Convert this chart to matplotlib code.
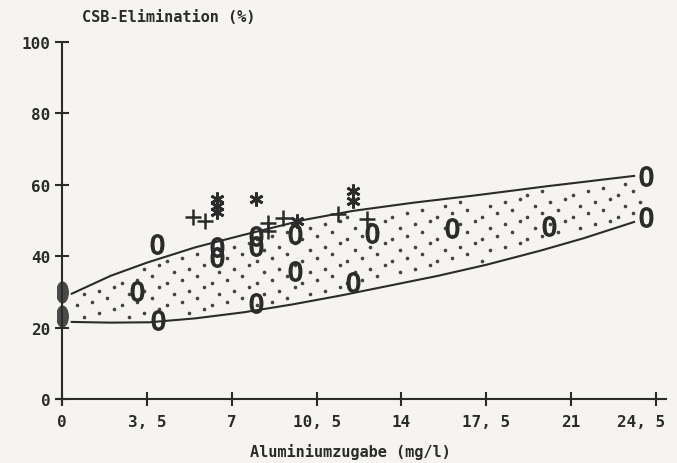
import numpy as np
import matplotlib.pyplot as plt
from matplotlib.path import Path
from matplotlib.transforms import Affine2D, ScaledTranslation

# Messpunkte
o_x = [3.1, 3.9, 3.95, 6.4, 6.4, 8.0, 8.0, 8.0, 9.6, 9.6, 12.0, 12.8, 16.1, 20.1, 24.1, 24.1]
o_y = [30.3, 43.4, 22.0, 42.6, 39.8, 45.6, 42.9, 26.9, 46.2, 35.9, 32.8, 46.5, 48.0, 48.5, 62.5, 51.0]
filled_x = [0, 0]
filled_y = [30.0, 23.2]
star_x = [6.4, 6.4, 6.4, 8.0, 9.7, 12.0, 12.0]
star_y = [56.0, 54.1, 52.4, 56.0, 49.8, 58.3, 55.5]
plus_x = [5.4, 5.9, 8.5, 8.5, 9.1, 11.4, 12.6]
plus_y = [51.0, 49.9, 49.3, 47.0, 50.6, 51.8, 50.4]

# Hüllkurven des Streubereichs
upper_x = [0.4, 2.0, 3.5, 5.5, 7.5, 10.0, 12.0, 14.5, 17.0, 20.0, 23.6]
upper_y = [29.5, 34.5, 38.2, 42.5, 46.0, 50.2, 52.7, 55.0, 57.0, 59.6, 62.5]
lower_x = [0.4, 2.0, 3.6, 5.5, 7.5, 9.5, 11.5, 13.1, 15.5, 17.5, 19.7, 21.5, 23.6]
lower_y = [21.6, 21.4, 21.5, 22.6, 24.3, 26.5, 29.0, 31.2, 34.5, 37.6, 41.5, 45.0, 49.6]

xticks = [0, 3.5, 7, 10.5, 14, 17.5, 21, 24.5]
xticklabels = ['0', '3, 5', '7', '10, 5', '14', '17, 5', '21', '24, 5']
yticks = [0, 20, 40, 60, 80, 100]

ink = '#2b2b2b'
plt.rcParams['font.family'] = ['DejaVu Sans Mono']

fig = plt.figure(figsize=(6.77, 4.64), dpi=100, facecolor='#f5f4f0')
ax = fig.add_axes([0.0845, 0.1263, 0.8987, 0.781])
ax.set_facecolor('none')

# Punktierung zwischen den Kurven (versetztes Raster)
gx, gy = np.meshgrid(np.arange(0.6, 23.6, 0.62), np.arange(20, 64, 3.1))
gx = gx + (np.arange(gy.shape[0]) % 2)[:, None] * 0.31
gy = gy + (np.arange(gx.shape[1]) % 3)[None, :] * 1.0
gx, gy = gx.ravel(), gy.ravel()
inside = (gy < np.interp(gx, upper_x, upper_y) - 1.2) & (gy > np.interp(gx, lower_x, lower_y) + 1.2)
ax.plot(gx[inside], gy[inside], ls='none', marker='o', ms=1.6, color='#444444')

ax.plot(upper_x, upper_y, color=ink, lw=1.5)
ax.plot(lower_x, lower_y, color=ink, lw=1.5)

oval = Path.unit_circle().transformed(Affine2D().scale(0.55, 1.0))
ax.plot(o_x, o_y, ls='none', marker=r'$\mathtt{O}$', ms=14, color=ink)
ax.plot(filled_x, filled_y, ls='none', marker=oval, ms=15, color='#4a4a4a')
ax.plot(star_x, star_y, ls='none', marker=(6, 2, 0), ms=10, mew=2, color=ink)
ax.plot(plus_x, plus_y, ls='none', marker='+', ms=11, mew=1.8, color=ink)

ax.set_xlim(-0.2, 24.9)
ax.set_ylim(-1.5, 100)
ax.spines['left'].set_position(('data', 0))
ax.spines['bottom'].set_position(('data', 0))
for s in ['top', 'right']:
    ax.spines[s].set_visible(False)
for s in ['left', 'bottom']:
    ax.spines[s].set_color(ink)
    ax.spines[s].set_linewidth(1.5)

ax.set_xticks(xticks)
ax.set_xticklabels(xticklabels)
ax.set_yticks(yticks)
ax.tick_params(direction='inout', length=10, width=1.5, color=ink, labelsize=11.5, labelcolor=ink)
ax.tick_params(axis='x', pad=6)
for lab in ax.get_xticklabels() + ax.get_yticklabels():
    lab.set_fontweight('bold')
# letzte Beschriftung etwas nach links, damit sie nicht abgeschnitten wird
last = ax.get_xticklabels()[-1]
last.set_transform(last.get_transform() + ScaledTranslation(-0.15, 0, fig.dpi_scale_trans))

fig.text(0.121, 0.962, 'CSB-Elimination (%)', fontsize=11, fontweight='bold', color=ink, va='center')
fig.text(0.517, 0.025, 'Aluminiumzugabe (mg/l)', fontsize=11, fontweight='bold', color=ink,
         ha='center', va='center')

fig.savefig('out.png', dpi=100, facecolor=fig.get_facecolor())
